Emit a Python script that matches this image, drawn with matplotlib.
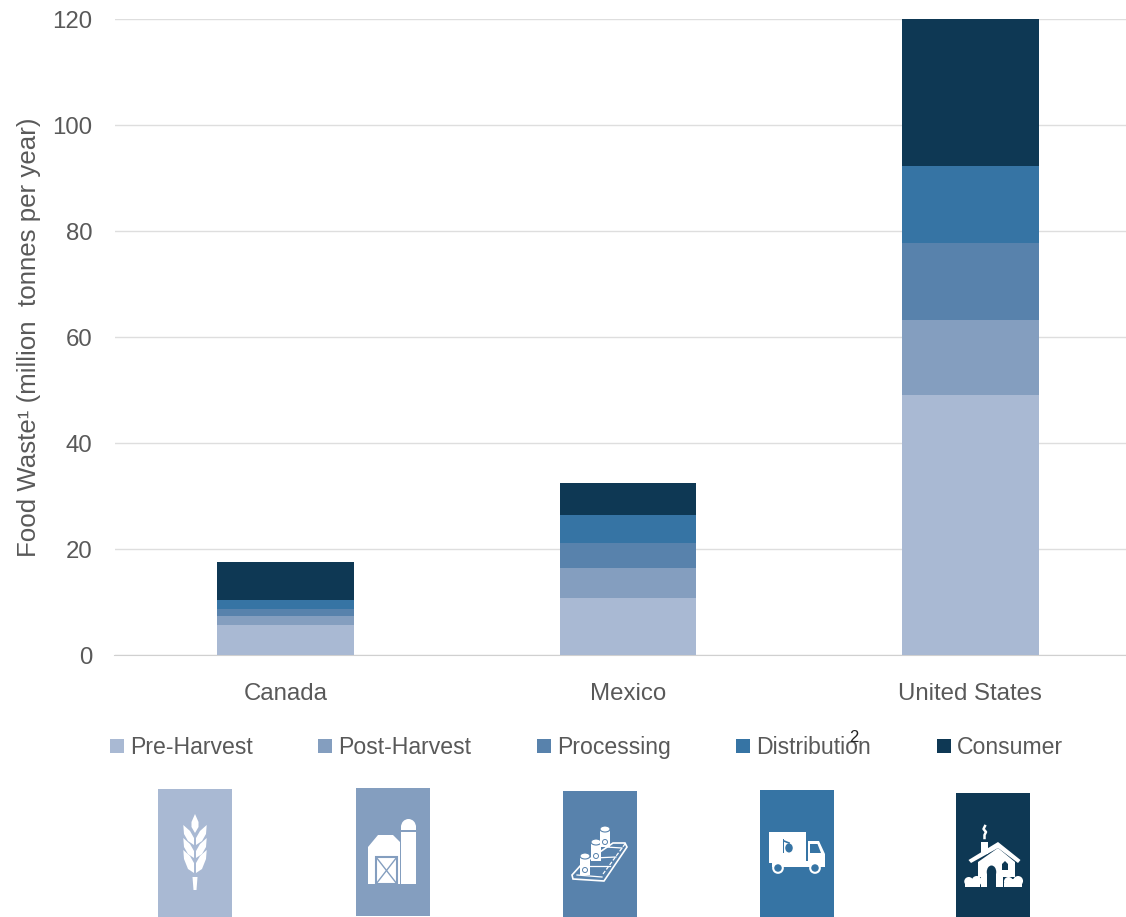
import matplotlib
matplotlib.use("Agg")
import matplotlib.pyplot as plt
from matplotlib.patches import Rectangle, Polygon, Ellipse, Circle

plt.rcParams['font.family'] = ['Liberation Sans', 'DejaVu Sans']

countries = ["Canada", "Mexico", "United States"]
stages = ["Pre-Harvest", "Post-Harvest", "Processing", "Distribution", "Consumer"]
colors = ["#A9B9D3", "#849EBF", "#5882AC", "#3674A4", "#0E3854"]

pre_harvest = [5.7, 10.8, 49.0]
post_harvest = [1.7, 5.7, 14.3]
processing = [1.3, 4.6, 14.4]
distribution = [1.7, 5.3, 14.6]
consumer = [7.1, 6.1, 27.7]
series = [pre_harvest, post_harvest, processing, distribution, consumer]

yticks = [0, 20, 40, 60, 80, 100, 120]
W, H = 1126, 917
grey = "#595959"

fig = plt.figure(figsize=(W / 100, H / 100), dpi=100)

# Axes runs a bit past the right edge, as the gridlines do in the picture
ax = fig.add_axes([114.5 / W, (H - 655) / H, 1027 / W, 636 / H])
bottom = [0, 0, 0]
for vals, col, name in zip(series, colors, stages):
    ax.bar(countries, vals, width=0.4, bottom=bottom, color=col, label=name, zorder=3)
    bottom = [b + v for b, v in zip(bottom, vals)]

ax.set_xlim(-0.5, 2.5)
ax.set_ylim(0, 120)
ax.set_yticks(yticks)
ax.grid(axis='y', color="#DEDEDE", lw=1, zorder=0)
for s in ['top', 'right', 'left']:
    ax.spines[s].set_visible(False)
ax.spines['bottom'].set_color("#D0D0D0")
ax.tick_params(axis='both', length=0, labelsize=17.3, labelcolor=grey)
ax.tick_params(axis='x', pad=20)
ax.tick_params(axis='y', pad=16)

# Overlay in pixel coordinates for the legend row and the icons
ov = fig.add_axes([0, 0, 1, 1])
ov.set_xlim(0, W)
ov.set_ylim(H, 0)
ov.axis('off')
ov.patch.set_alpha(0)

ov.text(29, 337, "Food Waste\u00b9 (million  tonnes per year)", rotation=90, ha='center',
        va='center', fontsize=18.6, color=grey)

legend_x = [110, 318, 537, 736, 937]
for x, col, name in zip(legend_x, colors, stages):
    ov.add_patch(Rectangle((x, 739), 14, 14, color=col, lw=0))
    ov.text(x + 20, 754, name, va='baseline', ha='left', fontsize=16.6, color=grey)
ov.text(854, 738, "2", fontsize=12, ha='center', va='center', color="#222222")

tiles = [(158, 789, 128), (356, 788, 128), (563, 791, 126), (760, 790, 127), (956, 793, 124)]
for (x, y, h), col in zip(tiles, colors):
    ov.add_patch(Rectangle((x, y), 74, h, color=col, lw=0))


def poly(pts, fc='white', ec='none', lw=0, z=5):
    ov.add_patch(Polygon(pts, closed=True, fc=fc, ec=ec, lw=lw, zorder=z))


def box(x, y, w, h, fc='white', ec='none', lw=0, z=5):
    ov.add_patch(Rectangle((x, y), w, h, fc=fc, ec=ec, lw=lw, zorder=z))


def wheat():
    c = 195
    poly([(c, 814), (c + 3.5, 822), (c + 3.5, 827), (c, 833), (c - 3.5, 827), (c - 3.5, 822)])
    for y0, ext in [(825, 0), (838, 0), (850, 3)]:
        for sgn in [-1, 1]:
            poly([(c + sgn * 11.7, y0), (c + sgn * 5, y0 + 6), (c + sgn * 1, y0 + 13),
                  (c + sgn * 1, y0 + 20 + ext), (c + sgn * 7, y0 + 16 + ext), (c + sgn * 11, y0 + 9)])
    poly([(c - 2.5, 877), (c + 2.5, 877), (c + 1.5, 890), (c - 1.5, 890)])


def barn():
    poly([(368, 884), (368, 847), (378, 835), (393, 835), (405, 847), (405, 884)])
    box(401, 826, 15, 58)
    ov.add_patch(Ellipse((408.5, 827), 15, 16, fc='white', lw=0, zorder=5))
    box(400, 830, 17, 1.5, fc=colors[1], z=6)
    box(400, 842, 1.2, 42, fc=colors[1], z=6)
    box(375.5, 856.5, 21.5, 27.5, ec=colors[1], fc='none', lw=1.5, z=6)
    ov.plot([376, 397], [857, 884], color=colors[1], lw=1, zorder=6)
    ov.plot([376, 397], [884, 857], color=colors[1], lw=1, zorder=6)


def conveyor():
    poly([(581, 865), (613, 843), (625, 843), (627, 847), (604, 881), (573, 879), (572, 875)],
         fc='none', ec='white', lw=1.2)
    for x0, y0, x1, y1 in [(577, 875, 602, 877), (585, 866, 610, 866), (594, 858, 616, 857),
                           (606, 847, 622, 848)]:
        ov.plot([x0, x1], [y0, y1], color='white', lw=0.9, zorder=6)
    ov.plot([603, 625], [874, 844], color='white', lw=0.9, zorder=6, ls=(0, (3, 1.5)))
    for x, y, h in [(585, 855, 20), (596, 841, 20), (605, 828, 19)]:
        box(x - 5, y, 10, h, z=7)
        ov.add_patch(Ellipse((x, y + 1), 10, 6, fc='white', ec=colors[2], lw=0.8, zorder=7))
        ov.add_patch(Circle((x, y + h - 5), 2.5, fc='white', ec=colors[2], lw=0.7, zorder=8))


def truck():
    box(769, 832, 37, 31)
    poly([(808, 841), (819, 841), (825, 854), (825, 867), (808, 867)])
    poly([(810, 844), (817.5, 844), (821, 853), (810, 853)], fc=colors[3], z=6)
    box(772, 861, 36, 6)
    for x in [778, 815]:
        ov.add_patch(Circle((x, 868), 4.8, fc=colors[3], ec='white', lw=1.5, zorder=6))
    ov.add_patch(Ellipse((789, 848), 7.5, 9, fc=colors[3], lw=0, zorder=6))
    box(782.5, 839, 1.8, 14, fc=colors[3], z=6)
    ov.plot([784, 789], [841, 843], color=colors[3], lw=1.2, zorder=6)


def house():
    box(981, 842, 7, 12)
    poly([(978, 862), (998, 848), (1015, 862), (1015, 887), (978, 887)])
    poly([(998, 842), (1020.5, 860), (1018, 863), (998, 848), (971, 863), (968.5, 860)])
    ov.plot([985, 983.5, 986, 984.5, 984.5], [826, 829, 832, 835, 838], color='white', lw=1.8, zorder=6)
    ov.add_patch(Ellipse((991.5, 872), 9.5, 13, fc=colors[4], lw=0, zorder=6))
    box(986.8, 872, 9.4, 16, fc=colors[4], z=6)
    poly([(1002, 864), (1005, 861), (1008, 864), (1008, 870), (1002, 870)], fc=colors[4], z=6)
    for x0, w in [(965, 15), (1004, 18)]:
        box(x0 - 1, 877, w + 2, 11, fc=colors[4], z=7)
        for cx, r in [(x0 + 0.25 * w, 4.5), (x0 + 0.5 * w, 3.5), (x0 + 0.78 * w, 5)]:
            ov.add_patch(Circle((cx, 887 - r - 1), r, fc='white', lw=0, zorder=8))
        box(x0, 883, w, 4, z=8)


wheat()
barn()
conveyor()
truck()
house()

fig.savefig("out.png", dpi=100)
